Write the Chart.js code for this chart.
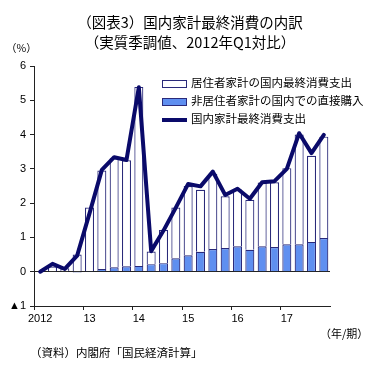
<!DOCTYPE html>
<html>
<head>
<meta charset="utf-8">
<script src="https://cdn.jsdelivr.net/npm/chart.js@4.4.0/dist/chart.umd.min.js"></script>
<style>
  body { margin: 0; background: #fff; font-family: "Noto Sans CJK JP", sans-serif; }
  #wrap { position: relative; width: 384px; height: 368px; }
  #chart { position: absolute; left: 0; top: 0; }
  .txt { position: absolute; white-space: nowrap; color: #000; }
  .title { font-size: 14.5px; left: 0; width: 380px; text-align: center; }
  .leg { position: absolute; left: 162px; font-size: 11.5px; }
  .leg div { height: 18px; line-height: 18px; white-space: nowrap; }
  .sw { display: inline-block; width: 25px; vertical-align: middle; margin-right: 4px; box-sizing: border-box; }
</style>
</head>
<body>
<div id="wrap">
  <canvas id="chart" width="384" height="368"></canvas>
  <div class="txt title" style="top:11px">（図表3）国内家計最終消費の内訳</div>
  <div class="txt title" style="top:31px">（実質季調値、2012年Q1対比）</div>
  <div class="txt" style="left:6px;top:40px;font-size:10.5px">（%）</div>
  <div class="leg" style="top:73px">
    <div><span class="sw" style="height:8px;border:1.5px solid #2a2a7a;background:#fff"></span>居住者家計の国内最終消費支出</div>
    <div><span class="sw" style="height:8px;border:1.5px solid #2a2a7a;background:#5f8ff0"></span>非居住者家計の国内での直接購入</div>
    <div><span class="sw" style="height:4px;background:#0a0a6a"></span>国内家計最終消費支出</div>
  </div>
  <div class="txt" style="left:320px;top:325px;font-size:11px">（年/期）</div>
  <div class="txt" style="left:30px;top:344px;font-size:11.5px">（資料）内閣府「国民経済計算」</div>
</div>
<script>
/* --------------- Data --------------------- */
const quarters = [
  "2012Q1", "2012Q2", "2012Q3", "2012Q4",
  "2013Q1", "2013Q2", "2013Q3", "2013Q4",
  "2014Q1", "2014Q2", "2014Q3", "2014Q4",
  "2015Q1", "2015Q2", "2015Q3", "2015Q4",
  "2016Q1", "2016Q2", "2016Q3", "2016Q4",
  "2017Q1", "2017Q2", "2017Q3", "2017Q4",
];
const yearLabels = ["2012", "13", "14", "15", "16", "17"];
// 居住者家計の国内最終消費支出
const residents = [
  0.0, 0.15, 0.1, 0.5,
  1.85, 2.87, 3.18, 3.09,
  5.22, 0.37, 0.97, 1.48,
  2.02, 1.81, 2.2, 1.51,
  1.66, 1.46, 1.86, 1.89,
  2.22, 3.2, 2.51, 2.96,
];
// 非居住者家計の国内での直接購入
const nonResidents = [
  0.0, 0.0, 0.0, -0.03,
  0.02, 0.08, 0.13, 0.16,
  0.17, 0.22, 0.25, 0.39,
  0.48, 0.58, 0.66, 0.69,
  0.74, 0.64, 0.74, 0.72,
  0.8, 0.8, 0.87, 0.98,
];
// 国内家計最終消費支出
const total = [
  0.0, 0.23, 0.08, 0.47,
  1.7, 2.97, 3.34, 3.26,
  5.38, 0.6, 1.2, 1.87,
  2.56, 2.49, 2.92, 2.24,
  2.42, 2.13, 2.61, 2.64,
  3.0, 4.04, 3.46, 3.99,
];

/* --------------- Chart --------------------- */
const axisColor = "#222";
const tickFont = { family: "'Liberation Sans', Arial, sans-serif", size: 11 };

new Chart(document.getElementById("chart"), {
  data: {
    labels: quarters,
    datasets: [
      {
        type: "line",
        data: total,
        stack: "line",
        borderColor: "#0a0a6a",
        borderWidth: 4,
        borderJoinStyle: "round",
        borderCapStyle: "round",
        pointRadius: 0,
        tension: 0,
        order: 0,
      },
      {
        type: "bar",
        data: nonResidents,
        stack: "bars",
        backgroundColor: "#5f8ff0",
        borderColor: "#2a2a7a",
        borderWidth: 1.2,
        barPercentage: 0.73,
        categoryPercentage: 1,
        order: 1,
      },
      {
        type: "bar",
        data: residents,
        stack: "bars",
        backgroundColor: "#ffffff",
        borderColor: "#2a2a7a",
        borderWidth: 1.2,
        barPercentage: 0.73,
        categoryPercentage: 1,
        order: 1,
      },
    ],
  },
  options: {
    responsive: false,
    animation: false,
    layout: { padding: { left: 0, top: 66, right: 54, bottom: 0 } },
    plugins: { legend: { display: false }, tooltip: { enabled: false } },
    scales: {
      x: {
        stacked: true,
        grid: {
          offset: true,
          drawOnChartArea: false,
          tickLength: 4,
          color: (ctx) => (ctx.index % 4 === 0 ? axisColor : "transparent"),
        },
        border: { color: axisColor, width: 1 },
        ticks: {
          autoSkip: false,
          maxRotation: 0,
          padding: 2,
          color: "#000",
          font: tickFont,
          callback: (v, i) => (i % 4 === 0 ? yearLabels[i / 4] : ""),
        },
        afterFit: (scale) => { scale.height = 62; },
      },
      y: {
        stacked: true,
        min: -1,
        max: 6,
        grid: {
          tickLength: 4,
          color: (ctx) => (ctx.tick && ctx.tick.value === 0 ? axisColor : "transparent"),
          tickColor: axisColor,
        },
        border: { color: axisColor, width: 1 },
        ticks: {
          stepSize: 1,
          padding: 4,
          color: "#000",
          font: tickFont,
          callback: (v) => (v < 0 ? "▲" + (-v) : v),
        },
        afterFit: (scale) => { scale.width = 34; },
      },
    },
  },
});
</script>
</body>
</html>
